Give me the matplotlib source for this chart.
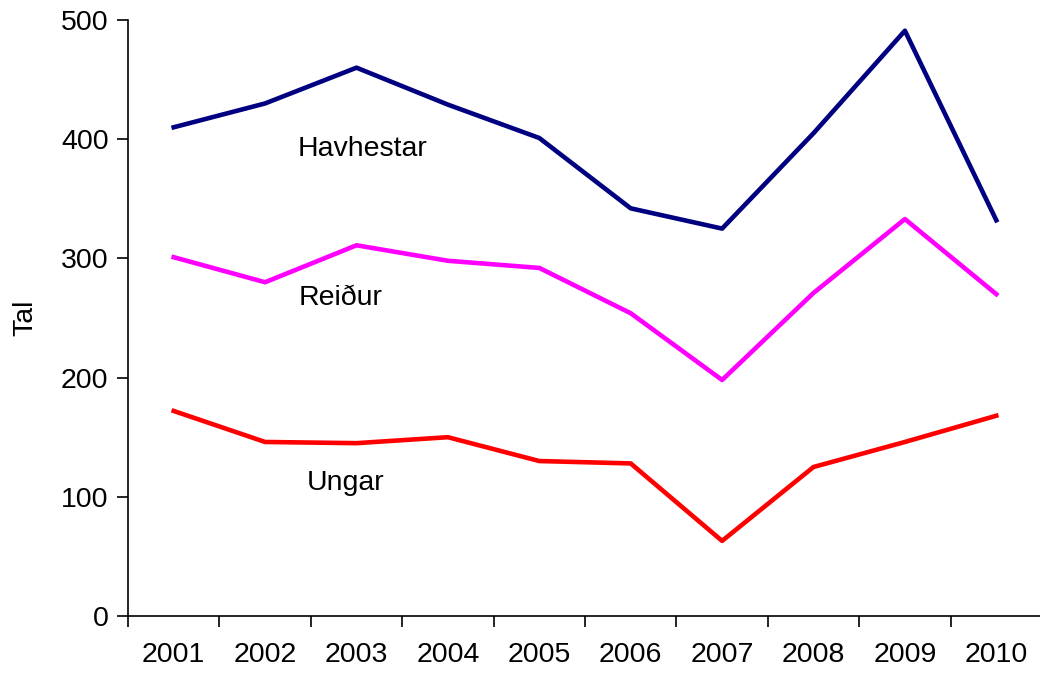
import numpy as np
import matplotlib.pyplot as plt

plt.rcParams['font.family'] = ['Liberation Sans', 'DejaVu Sans']

years = ['2001', '2002', '2003', '2004', '2005', '2006', '2007', '2008', '2009', '2010']
havhestar = [410, 430, 460, 429, 401, 342, 325, 405, 491, 332]
reidur = [301, 280, 311, 298, 292, 254, 198, 271, 333, 270]
ungar = [172, 146, 145, 150, 130, 128, 63, 125, 146, 168]

fs = 20.5

fig = plt.figure(figsize=(10.4, 6.73), dpi=100)
ax = fig.add_axes([128/1040, 1 - 616/673, 914/1040, 596/673])

x = np.arange(1, len(years) + 1)
ax.plot(x, havhestar, color='#000080', lw=3.3)
ax.plot(x, reidur, color='#FF00FF', lw=3.3)
ax.plot(x, ungar, color='#FF0000', lw=3.3)

ax.text(2.36, 386, 'Havhestar', fontsize=fs, ha='left', va='baseline')
ax.text(2.37, 261, 'Reiður', fontsize=fs, ha='left', va='baseline')
ax.text(2.46, 106, 'Ungar', fontsize=fs, ha='left', va='baseline')

ax.set_xlim(0.5, len(years) + 0.5)
ax.set_ylim(0, 500)
ax.set_yticks([0, 100, 200, 300, 400, 500])
ax.set_xticks(np.arange(0.5, len(years) + 1, 1))
ax.set_xticklabels([])
ax.set_xticks(x, minor=True)
ax.set_xticklabels(years, minor=True)
ax.tick_params(axis='x', which='minor', length=0, pad=19, labelsize=fs)
ax.tick_params(axis='x', which='major', length=8, width=1.2, direction='out')
ax.tick_params(axis='y', length=8, width=1.2, direction='out', labelsize=fs, pad=6)

for s in ['top', 'right']:
    ax.spines[s].set_visible(False)
ax.spines['left'].set_linewidth(1.2)
ax.spines['bottom'].set_linewidth(1.2)

ax.set_ylabel('Tal', fontsize=fs, labelpad=16)

fig.savefig('out.png', dpi=100)
